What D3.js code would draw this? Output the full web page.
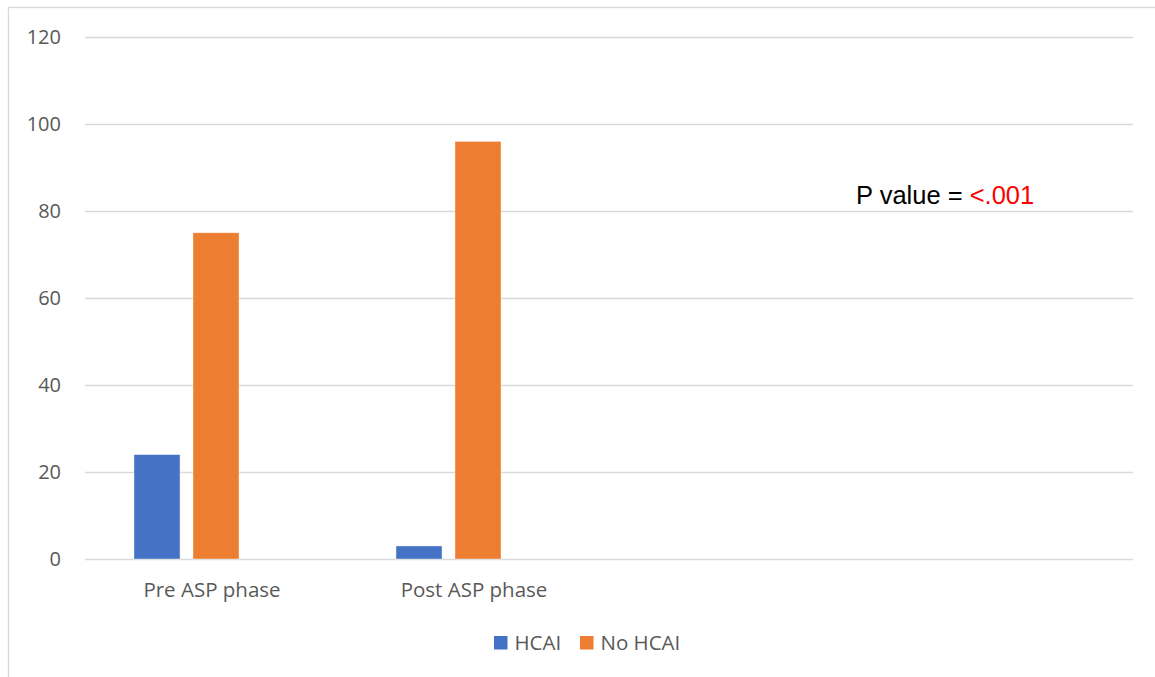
<!DOCTYPE html>
<html><head><meta charset="utf-8">
<script src="https://cdn.jsdelivr.net/npm/d3@7"></script>
<style>body{margin:0;background:#fff}svg{display:block}</style>
</head><body>
<svg id="c" width="1155" height="677"></svg>
<script>
const categories = ["Pre ASP phase", "Post ASP phase", "", ""];
const seriesNames = ["HCAI", "No HCAI", ""];
const hcai = [24, 3, null, null];
const noHcai = [75, 96, null, null];
const third = [null, null, null, null];
const yTicks = [0, 20, 40, 60, 80, 100, 120];
const colors = ["#4472c4", "#ed7d31", "#a5a5a5"];

const svg = d3.select("#c");
const font = "'Open Sans', 'Noto Sans', sans-serif";
svg.append("rect").attr("x", 8.5).attr("y", 7.5).attr("width", 1200).attr("height", 700)
  .attr("fill", "#fff").attr("stroke", "#d9d9d9").attr("stroke-width", 1.3);

const x0 = d3.scaleBand().domain(d3.range(categories.length)).range([85, 1133]).paddingInner(0).paddingOuter(0);
const y = d3.scaleLinear().domain([0, 120]).range([559, 37]);
const groupPad = 0.187;
const x1 = d3.scaleBand().domain(d3.range(seriesNames.length))
  .range([x0.bandwidth() * groupPad, x0.bandwidth() * (1 - groupPad)]).paddingInner(0.22);

const yAxis = d3.axisLeft(y).tickValues(yTicks).tickSize(-(1133 - 85)).tickPadding(24);
const ga = svg.append("g").attr("transform", "translate(85,0)").call(yAxis);
ga.select(".domain").remove();
ga.selectAll(".tick line").attr("stroke", "#d9d9d9").attr("stroke-width", 1.3);
ga.selectAll(".tick text").attr("fill", "#595959").attr("font-size", 20).attr("font-family", font);

const data = [hcai, noHcai, third];
const g = svg.append("g");
categories.forEach((c, i) => {
  data.forEach((s, j) => {
    if (s[i] == null) return;
    g.append("rect")
      .attr("x", x0(i) + x1(j)).attr("width", x1.bandwidth())
      .attr("y", y(s[i])).attr("height", y(0) - y(s[i]))
      .attr("fill", colors[j]).attr("stroke", "#fff").attr("stroke-opacity", 0.5).attr("stroke-width", 0.8);
  });
});

const xa = d3.axisBottom(x0).tickFormat(i => categories[i]).tickSize(0).tickPadding(0);
const gx = svg.append("g").attr("transform", "translate(0,559)").call(xa);
gx.select(".domain").remove();
gx.selectAll(".tick text").attr("fill", "#595959").attr("font-size", 20.5).attr("font-family", font)
  .attr("dy", null).attr("y", 38).attr("dx", -4);

const legendItems = [{n: seriesNames[0], c: colors[0], x: 494}, {n: seriesNames[1], c: colors[1], x: 580}];
legendItems.forEach(d => {
  svg.append("rect").attr("x", d.x).attr("y", 636).attr("width", 13.5).attr("height", 13.5).attr("fill", d.c);
  svg.append("text").attr("x", d.x + 20.5).attr("y", 650).text(d.n)
    .attr("fill", "#595959").attr("font-size", 20.5).attr("font-family", font);
});

const t = svg.append("text").attr("x", 856).attr("y", 204)
  .attr("font-size", 25.5).attr("font-family", "'Liberation Sans', Carlito, sans-serif");
t.append("tspan").attr("fill", "#000").text("P value = ");
t.append("tspan").attr("fill", "#ff0000").text("<.001");
</script>
</body></html>
